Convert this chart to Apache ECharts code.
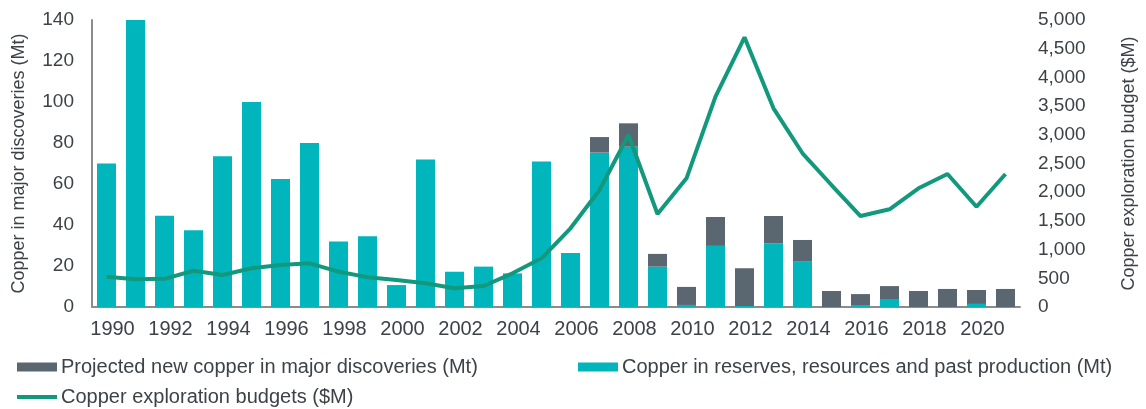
<!DOCTYPE html>
<html>
<head>
<meta charset="utf-8">
<script src="https://cdn.jsdelivr.net/npm/echarts@6/dist/echarts.min.js"></script>
<style>
  html, body { margin: 0; padding: 0; background: #fff; }
  #chart { width: 1146px; height: 409px; }
</style>
</head>
<body>
<div id="chart"></div>
<script>
// years on the x axis
var years = ['1990','1991','1992','1993','1994','1995','1996','1997','1998','1999',
             '2000','2001','2002','2003','2004','2005','2006','2007','2008','2009',
             '2010','2011','2012','2013','2014','2015','2016','2017','2018','2019',
             '2020','2021'];

// copper in reserves, resources and past production (Mt)
var reserves = [70, 140, 44.5, 37.5, 73.5, 100, 62.5, 80, 32, 34.5,
                10.7, 72, 17.2, 19.7, 16.4, 71, 26.3, 75.3, 78.2, 19.7,
                1, 29.8, 0.5, 31.1, 22.4, 0, 0.6, 3.9, 0, 0,
                1.5, 0];

// projected new copper in major discoveries (Mt)
var projected = [0, 0, 0, 0, 0, 0, 0, 0, 0, 0,
                 0, 0, 0, 0, 0, 0, 0, 7.6, 11.4, 6.2,
                 8.8, 14.1, 18.4, 13.3, 10.3, 7.8, 5.7, 6.3, 7.8, 8.8,
                 6.8, 8.8];

// copper exploration budgets ($M)
var budgets = [528, 485, 490, 632, 557, 674, 732, 761, 615, 520,
               470, 413, 325, 366, 587, 848, 1371, 2038, 2996, 1620,
               2242, 3664, 4698, 3461, 2678, 2125, 1585, 1702, 2068, 2317,
               1747, 2317];

var textColor = '#3d4249';
var fontFamily = '"Liberation Sans", Arial, sans-serif';
var legendText = { fontSize: 20, color: textColor, fontFamily: fontFamily, padding: [0, 0, 0, -1] };

var chart = echarts.init(document.getElementById('chart'));

chart.setOption({
    animation: false,
    textStyle: { fontFamily: fontFamily, color: textColor },
    grid: { left: 92, right: 116, top: 20, bottom: 102, containLabel: false },
    legend: [
        {
            data: [{ name: 'Projected new copper in major discoveries (Mt)', icon: 'rect' }],
            left: 12, top: 352, padding: [5, 5, 2, 5],
            itemWidth: 40, itemHeight: 9,
            textStyle: legendText
        },
        {
            data: [{ name: 'Copper in reserves, resources and past production (Mt)', icon: 'rect' }],
            left: 573, top: 352, padding: [5, 5, 2, 5],
            itemWidth: 40, itemHeight: 9,
            textStyle: legendText
        },
        {
            data: [{ name: 'Copper exploration budgets ($M)', icon: 'rect' }],
            left: 12, top: 382, padding: [5, 5, 2, 5],
            itemWidth: 40, itemHeight: 4,
            textStyle: legendText
        }
    ],
    xAxis: {
        type: 'category',
        data: years,
        axisLine: { lineStyle: { color: '#8c8c8c', width: 2 } },
        axisTick: { show: false },
        axisLabel: { interval: 1, fontSize: 20, color: textColor, margin: 12, padding: [0, 0, 0, 12] }
    },
    yAxis: [
        {
            type: 'value',
            min: 0, max: 140, interval: 20,
            name: 'Copper in major discoveries (Mt)',
            nameLocation: 'middle',
            nameGap: 64,
            nameTextStyle: { fontSize: 18, color: textColor },
            axisLine: { show: true, lineStyle: { color: '#8c8c8c', width: 2 } },
            axisTick: { show: false },
            splitLine: { show: false },
            axisLabel: { fontSize: 19, color: textColor, margin: 18 }
        },
        {
            type: 'value',
            min: 0, max: 5000, interval: 500,
            name: 'Copper exploration budget ($M)',
            nameLocation: 'middle',
            nameGap: 100,
            nameRotate: 90,
            nameTextStyle: { fontSize: 18, color: textColor },
            axisLine: { show: false },
            axisTick: { show: false },
            splitLine: { show: false },
            axisLabel: {
                fontSize: 19, color: textColor, margin: 18,
                formatter: function (v) { return v.toLocaleString('en-US'); }
            }
        }
    ],
    series: [
        {
            name: 'Copper in reserves, resources and past production (Mt)',
            type: 'bar',
            stack: 'cu',
            data: reserves,
            barWidth: 19,
            itemStyle: { color: '#00b6bc' }
        },
        {
            name: 'Projected new copper in major discoveries (Mt)',
            type: 'bar',
            stack: 'cu',
            data: projected,
            barWidth: 19,
            itemStyle: { color: '#5b6770' }
        },
        {
            name: 'Copper exploration budgets ($M)',
            type: 'line',
            yAxisIndex: 1,
            data: budgets,
            symbol: 'none',
            lineStyle: { color: '#12997d', width: 4 },
            itemStyle: { color: '#12997d' }
        }
    ]
});
</script>
</body>
</html>
